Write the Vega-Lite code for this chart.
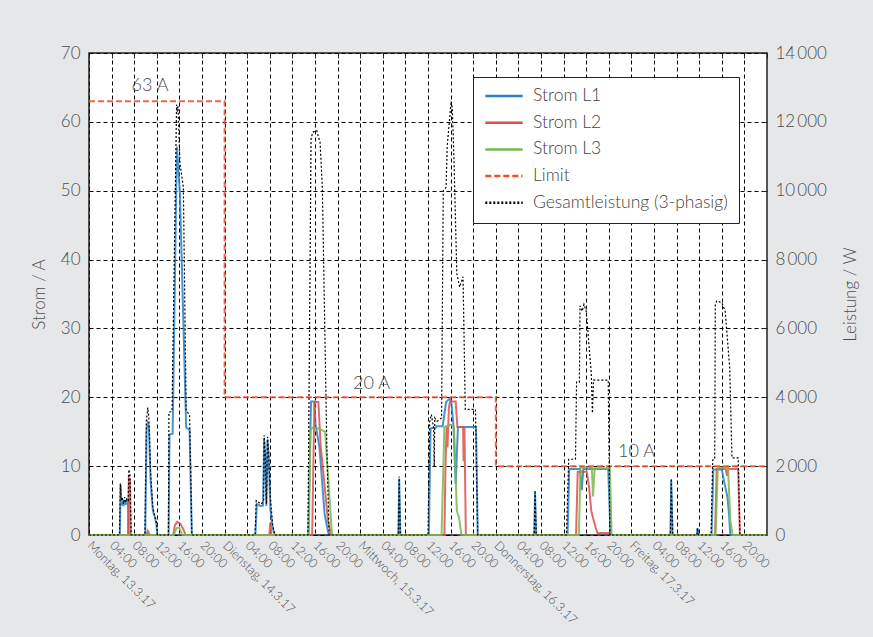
{
  "$schema": "https://vega.github.io/schema/vega-lite/v6.json",
  "width": 678,
  "height": 482,
  "autosize": {"type": "none"},
  "padding": {"left": 89, "top": 53, "right": 106, "bottom": 102},
  "background": "#e6e7e9",
  "config": {
    "font": "Lato",
    "view": {"stroke": "#222222", "strokeWidth": 1.5, "fill": "white"},
    "axis": {"labelFont": "Lato", "labelFontWeight": 300, "labelColor": "#4d4d4d", "titleFont": "Lato", "titleFontWeight": 300, "titleColor": "#4d4d4d"},
    "legend": {"labelFont": "Lato", "labelFontWeight": 300}
  },
  "datasets": {
    "cur": [
      {"t":0,"s":"Strom L1","v":0},{"t":5.45,"s":"Strom L1","v":0},{"t":5.6,"s":"Strom L1","v":7.3},{"t":5.75,"s":"Strom L1","v":4.3},{"t":5.95,"s":"Strom L1","v":5.0},{"t":6.1,"s":"Strom L1","v":4.2},{"t":6.3,"s":"Strom L1","v":5.1},{"t":6.5,"s":"Strom L1","v":4.4},{"t":6.7,"s":"Strom L1","v":5.0},{"t":6.9,"s":"Strom L1","v":4.6},{"t":7.05,"s":"Strom L1","v":0},
      {"t":9.95,"s":"Strom L1","v":0},{"t":10.2,"s":"Strom L1","v":15.5},{"t":10.4,"s":"Strom L1","v":16.3},{"t":10.6,"s":"Strom L1","v":15.8},{"t":10.9,"s":"Strom L1","v":8},{"t":11.3,"s":"Strom L1","v":3.5},{"t":11.7,"s":"Strom L1","v":2.5},{"t":11.95,"s":"Strom L1","v":1.5},{"t":12.1,"s":"Strom L1","v":0},
      {"t":14.1,"s":"Strom L1","v":0},{"t":14.25,"s":"Strom L1","v":14.6},{"t":14.8,"s":"Strom L1","v":14.7},{"t":15.55,"s":"Strom L1","v":56.4},{"t":16.1,"s":"Strom L1","v":49.5},{"t":17.2,"s":"Strom L1","v":15.6},{"t":17.8,"s":"Strom L1","v":15.3},{"t":18.2,"s":"Strom L1","v":0},
      {"t":29.45,"s":"Strom L1","v":0},{"t":29.7,"s":"Strom L1","v":4.5},{"t":30.0,"s":"Strom L1","v":4.4},{"t":30.4,"s":"Strom L1","v":4.2},{"t":30.8,"s":"Strom L1","v":4.3},{"t":31.0,"s":"Strom L1","v":14.0},{"t":31.2,"s":"Strom L1","v":11.0},{"t":31.4,"s":"Strom L1","v":4.2},{"t":31.6,"s":"Strom L1","v":13.8},{"t":31.8,"s":"Strom L1","v":11.4},{"t":32.1,"s":"Strom L1","v":3.8},{"t":32.5,"s":"Strom L1","v":1.0},{"t":32.9,"s":"Strom L1","v":0},
      {"t":38.8,"s":"Strom L1","v":0},{"t":39.3,"s":"Strom L1","v":19.4},{"t":39.9,"s":"Strom L1","v":19.4},{"t":40.1,"s":"Strom L1","v":16},{"t":40.8,"s":"Strom L1","v":12.7},{"t":41.7,"s":"Strom L1","v":3},{"t":42.3,"s":"Strom L1","v":0.5},{"t":42.5,"s":"Strom L1","v":0},
      {"t":54.75,"s":"Strom L1","v":0},{"t":54.9,"s":"Strom L1","v":8.2},{"t":55.1,"s":"Strom L1","v":0},
      {"t":60.15,"s":"Strom L1","v":0},{"t":60.45,"s":"Strom L1","v":15.5},{"t":61.4,"s":"Strom L1","v":15.6},{"t":61.5,"s":"Strom L1","v":15.8},{"t":62.6,"s":"Strom L1","v":15.8},{"t":63.2,"s":"Strom L1","v":19.3},{"t":63.8,"s":"Strom L1","v":19.8},{"t":64.1,"s":"Strom L1","v":19.5},{"t":64.5,"s":"Strom L1","v":16},{"t":64.9,"s":"Strom L1","v":7.4},{"t":65.3,"s":"Strom L1","v":15.7},{"t":68.5,"s":"Strom L1","v":15.7},{"t":68.8,"s":"Strom L1","v":0},
      {"t":78.8,"s":"Strom L1","v":0},{"t":78.95,"s":"Strom L1","v":6.2},{"t":79.15,"s":"Strom L1","v":0},
      {"t":84.7,"s":"Strom L1","v":0},{"t":85.0,"s":"Strom L1","v":9.6},{"t":86.9,"s":"Strom L1","v":9.6},{"t":87.2,"s":"Strom L1","v":6.5},{"t":87.5,"s":"Strom L1","v":9.6},{"t":91.9,"s":"Strom L1","v":9.6},{"t":92.3,"s":"Strom L1","v":0},
      {"t":102.9,"s":"Strom L1","v":0},{"t":103.05,"s":"Strom L1","v":7.9},{"t":103.3,"s":"Strom L1","v":0},
      {"t":107.6,"s":"Strom L1","v":0},{"t":107.7,"s":"Strom L1","v":1.0},{"t":107.85,"s":"Strom L1","v":0},
      {"t":110.2,"s":"Strom L1","v":0},{"t":110.5,"s":"Strom L1","v":9.5},{"t":112.0,"s":"Strom L1","v":9.5},{"t":112.4,"s":"Strom L1","v":7.8},{"t":113.0,"s":"Strom L1","v":5.5},{"t":113.3,"s":"Strom L1","v":2.8},{"t":113.5,"s":"Strom L1","v":0},{"t":120,"s":"Strom L1","v":0},

      {"t":0,"s":"Strom L2","v":0},{"t":6.9,"s":"Strom L2","v":0},{"t":7.05,"s":"Strom L2","v":8.3},{"t":7.25,"s":"Strom L2","v":8.0},{"t":7.4,"s":"Strom L2","v":0},
      {"t":10.2,"s":"Strom L2","v":0},{"t":10.4,"s":"Strom L2","v":0.6},{"t":10.8,"s":"Strom L2","v":0},
      {"t":14.9,"s":"Strom L2","v":0},{"t":15.2,"s":"Strom L2","v":1.4},{"t":15.6,"s":"Strom L2","v":1.9},{"t":16.2,"s":"Strom L2","v":1.6},{"t":16.7,"s":"Strom L2","v":0.8},{"t":17.1,"s":"Strom L2","v":0},
      {"t":31.9,"s":"Strom L2","v":0},{"t":32.1,"s":"Strom L2","v":1.8},{"t":32.3,"s":"Strom L2","v":0},
      {"t":39.5,"s":"Strom L2","v":0},{"t":39.9,"s":"Strom L2","v":19.3},{"t":40.6,"s":"Strom L2","v":19.3},{"t":41.0,"s":"Strom L2","v":13},{"t":41.6,"s":"Strom L2","v":8},{"t":42.3,"s":"Strom L2","v":2},{"t":42.9,"s":"Strom L2","v":0},
      {"t":62.9,"s":"Strom L2","v":0},{"t":63.1,"s":"Strom L2","v":10.3},{"t":63.3,"s":"Strom L2","v":15.7},{"t":63.45,"s":"Strom L2","v":12.7},{"t":63.7,"s":"Strom L2","v":18.5},{"t":63.9,"s":"Strom L2","v":19.4},{"t":64.9,"s":"Strom L2","v":19.4},{"t":65.2,"s":"Strom L2","v":15.7},{"t":66.2,"s":"Strom L2","v":15.7},{"t":66.3,"s":"Strom L2","v":10.7},{"t":66.45,"s":"Strom L2","v":15.7},{"t":66.7,"s":"Strom L2","v":0},
      {"t":86.2,"s":"Strom L2","v":0},{"t":86.5,"s":"Strom L2","v":9.2},{"t":88.1,"s":"Strom L2","v":9.2},{"t":88.5,"s":"Strom L2","v":7.0},{"t":88.9,"s":"Strom L2","v":3.5},{"t":89.3,"s":"Strom L2","v":2.2},{"t":89.7,"s":"Strom L2","v":1.0},{"t":90.0,"s":"Strom L2","v":0.3},{"t":92.0,"s":"Strom L2","v":0.3},{"t":92.2,"s":"Strom L2","v":0},
      {"t":110.8,"s":"Strom L2","v":0},{"t":111.1,"s":"Strom L2","v":9.6},{"t":112.7,"s":"Strom L2","v":9.6},{"t":112.9,"s":"Strom L2","v":8.6},{"t":113.2,"s":"Strom L2","v":9.6},{"t":114.9,"s":"Strom L2","v":9.6},{"t":115.2,"s":"Strom L2","v":0},{"t":120,"s":"Strom L2","v":0},

      {"t":0,"s":"Strom L3","v":0},{"t":15.0,"s":"Strom L3","v":0},{"t":15.5,"s":"Strom L3","v":1.0},{"t":16.0,"s":"Strom L3","v":1.0},{"t":16.5,"s":"Strom L3","v":0},
      {"t":38.9,"s":"Strom L3","v":0},{"t":39.2,"s":"Strom L3","v":15.3},{"t":39.6,"s":"Strom L3","v":15.6},{"t":40.5,"s":"Strom L3","v":15.5},{"t":41.8,"s":"Strom L3","v":15.0},{"t":43.0,"s":"Strom L3","v":0},
      {"t":62.4,"s":"Strom L3","v":0},{"t":62.9,"s":"Strom L3","v":15.7},{"t":64.0,"s":"Strom L3","v":16.0},{"t":64.6,"s":"Strom L3","v":15.7},{"t":65.1,"s":"Strom L3","v":3.5},{"t":65.5,"s":"Strom L3","v":2.5},{"t":65.9,"s":"Strom L3","v":0},
      {"t":86.7,"s":"Strom L3","v":0},{"t":87.0,"s":"Strom L3","v":9.8},{"t":89.0,"s":"Strom L3","v":9.8},{"t":89.2,"s":"Strom L3","v":5.6},{"t":89.5,"s":"Strom L3","v":9.7},{"t":92.2,"s":"Strom L3","v":9.7},{"t":92.5,"s":"Strom L3","v":0},
      {"t":110.9,"s":"Strom L3","v":0},{"t":111.3,"s":"Strom L3","v":9.8},{"t":113.1,"s":"Strom L3","v":9.8},{"t":113.5,"s":"Strom L3","v":2.2},{"t":113.9,"s":"Strom L3","v":0},{"t":120,"s":"Strom L3","v":0},

      {"t":0,"s":"Limit","v":63},{"t":24,"s":"Limit","v":63},{"t":24,"s":"Limit","v":20},{"t":72,"s":"Limit","v":20},{"t":72,"s":"Limit","v":10},{"t":120,"s":"Limit","v":10}
    ],
    "tot": [
      {"t":0,"w":0},{"t":5.4,"w":0},{"t":5.55,"w":1500},{"t":5.7,"w":1000},{"t":5.9,"w":1100},{"t":6.1,"w":900},{"t":6.3,"w":1100},{"t":6.5,"w":950},{"t":6.7,"w":1050},{"t":6.95,"w":1000},{"t":7.05,"w":1900},{"t":7.25,"w":1750},{"t":7.45,"w":0},
      {"t":9.9,"w":0},{"t":10.15,"w":3300},{"t":10.4,"w":3700},{"t":10.6,"w":3400},{"t":10.9,"w":1800},{"t":11.3,"w":800},{"t":11.7,"w":500},{"t":12.0,"w":300},{"t":12.1,"w":0},
      {"t":14.05,"w":0},{"t":14.15,"w":3560},{"t":14.7,"w":3600},{"t":15.5,"w":12500},{"t":15.6,"w":12300},{"t":15.75,"w":12450},{"t":16.1,"w":10800},{"t":16.7,"w":10100},{"t":17.2,"w":3600},{"t":17.8,"w":3500},{"t":18.2,"w":0},
      {"t":29.4,"w":0},{"t":29.6,"w":1000},{"t":30.0,"w":950},{"t":30.5,"w":900},{"t":30.9,"w":1000},{"t":31.0,"w":2900},{"t":31.2,"w":2300},{"t":31.4,"w":900},{"t":31.6,"w":2850},{"t":31.8,"w":2400},{"t":32.1,"w":1100},{"t":32.5,"w":300},{"t":32.9,"w":0},
      {"t":38.75,"w":0},{"t":39.3,"w":11500},{"t":39.6,"w":11700},{"t":40.3,"w":11750},{"t":40.9,"w":11400},{"t":41.3,"w":10100},{"t":42.1,"w":2500},{"t":42.5,"w":0},
      {"t":54.75,"w":0},{"t":54.9,"w":1700},{"t":55.1,"w":0},
      {"t":60.0,"w":0},{"t":60.3,"w":3300},{"t":60.6,"w":3500},{"t":61.0,"w":3100},{"t":61.1,"w":2000},{"t":61.2,"w":3400},{"t":61.6,"w":3300},{"t":62.4,"w":3400},{"t":62.7,"w":10000},{"t":63.2,"w":10100},{"t":63.4,"w":11300},{"t":64.1,"w":12600},{"t":64.3,"w":12400},{"t":64.6,"w":10900},{"t":65.1,"w":7600},{"t":65.6,"w":7200},{"t":66.2,"w":7500},{"t":66.6,"w":3650},{"t":68.4,"w":3650},{"t":68.8,"w":0},
      {"t":78.8,"w":0},{"t":78.95,"w":1300},{"t":79.15,"w":0},
      {"t":84.5,"w":0},{"t":84.9,"w":2200},{"t":86.1,"w":2200},{"t":86.3,"w":4440},{"t":86.8,"w":4440},{"t":86.9,"w":6660},{"t":87.3,"w":6500},{"t":87.6,"w":6700},{"t":88.0,"w":6500},{"t":88.9,"w":4700},{"t":89.1,"w":3540},{"t":89.3,"w":4500},{"t":91.9,"w":4500},{"t":92.2,"w":0},
      {"t":102.9,"w":0},{"t":103.05,"w":1640},{"t":103.3,"w":0},
      {"t":107.6,"w":0},{"t":107.7,"w":200},{"t":107.85,"w":0},
      {"t":110.1,"w":0},{"t":110.4,"w":2180},{"t":110.75,"w":2200},{"t":110.85,"w":6680},{"t":111.1,"w":6800},{"t":112.0,"w":6750},{"t":112.6,"w":6500},{"t":113.4,"w":4860},{"t":113.8,"w":2240},{"t":114.9,"w":2240},{"t":115.2,"w":0},{"t":120,"w":0}
    ],
    "lbl": [
      {"t":10.8,"v":65.2,"label":"63 A"},
      {"t":50.0,"v":22.0,"label":"20 A"},
      {"t":96.9,"v":12.1,"label":"10 A"}
    ]
  },
  "layer": [
    {
      "data": {"name": "cur"},
      "mark": {"type": "line", "strokeWidth": 2, "strokeOpacity": 0.85},
      "encoding": {
        "x": {"field": "t", "type": "quantitative",
          "scale": {"domain": [0, 120], "nice": false, "zero": false},
          "axis": {"title": null, "tickCount": 40, "values": [0,4,8,12,16,20,24,28,32,36,40,44,48,52,56,60,64,68,72,76,80,84,88,92,96,100,104,108,112,116],
            "labelExpr": "datum.value % 24 == 0 ? ['Montag, 13.3.17','Dienstag, 14.3.17','Mittwoch, 15.3.17','Donnerstag, 16.3.17','Freitag, 17.3.17'][datum.value/24] : ((datum.value % 24) < 10 ? '0' : '') + (datum.value % 24) + ':00'",
            "labelAngle": 45, "labelAlign": "left", "labelBaseline": "middle", "labelPadding": 8,
            "labelFontSize": 12.5, "labelOverlap": false, "labelBound": false, "labelFlush": false,
            "ticks": false, "domain": false,
            "grid": true, "gridColor": "#000000", "gridDash": [4, 3], "gridWidth": 1, "gridOpacity": 1}},
        "y": {"field": "v", "type": "quantitative",
          "scale": {"domain": [0, 70], "nice": false},
          "axis": {"title": "Strom / A", "values": [0,10,20,30,40,50,60,70], "labelFontSize": 17, "titleFontSize": 17,
            "labelPadding": 9, "titlePadding": 12, "ticks": false, "domain": false,
            "grid": true, "gridColor": "#000000", "gridDash": [4, 3], "gridWidth": 1, "gridOpacity": 1}},
        "color": {"field": "s", "type": "nominal",
          "scale": {"domain": ["Strom L1","Strom L2","Strom L3","Limit","Gesamtleistung (3-phasig)"], "range": ["#2a7fc4","#dd4f4c","#78b84c","#f04e23","#000000"]},
          "legend": {"title": null, "orient": "none", "legendX": 384, "legendY": 24, "fillColor": "white", "strokeColor": "#222222",
            "padding": 11, "symbolType": "stroke", "symbolSize": 1400, "symbolStrokeWidth": 2.5, "labelFontSize": 17.5, "labelColor": "#444444",
            "labelOffset": 9, "labelLimit": 400, "clipHeight": 16, "rowPadding": 8.7}},
        "strokeDash": {"field": "s", "type": "nominal",
          "scale": {"domain": ["Strom L1","Strom L2","Strom L3","Limit","Gesamtleistung (3-phasig)"], "range": [[1,0],[1,0],[1,0],[6,3],[2,2]]},
          "legend": {"title": null, "orient": "none", "legendX": 384, "legendY": 24}},
        "order": {"value": null}
      }
    },
    {
      "data": {"name": "tot"},
      "transform": [{"calculate": "'Gesamtleistung (3-phasig)'", "as": "s"}],
      "mark": {"type": "line", "strokeWidth": 1.2},
      "encoding": {
        "x": {"field": "t", "type": "quantitative", "scale": {"domain": [0, 120], "nice": false, "zero": false}, "axis": null},
        "y": {"field": "w", "type": "quantitative",
          "scale": {"domain": [0, 14000], "nice": false},
          "axis": {"orient": "right", "title": "Leistung / W", "titleAngle": -90, "values": [0,2000,4000,6000,8000,10000,12000,14000],
            "labelExpr": "replace(format(datum.value, ','), ',', '\u2009')",
            "labelFontSize": 17, "titleFontSize": 17, "labelPadding": 13, "titlePadding": 33,
            "ticks": true, "tickSize": -5, "tickColor": "#222222", "tickWidth": 1, "domain": false, "grid": false}},
        "color": {"field": "s", "type": "nominal",
          "scale": {"domain": ["Strom L1","Strom L2","Strom L3","Limit","Gesamtleistung (3-phasig)"], "range": ["#2a7fc4","#dd4f4c","#78b84c","#f04e23","#000000"]}},
        "strokeDash": {"field": "s", "type": "nominal",
          "scale": {"domain": ["Strom L1","Strom L2","Strom L3","Limit","Gesamtleistung (3-phasig)"], "range": [[1,0],[1,0],[1,0],[6,3],[2,2]]}},
        "order": {"value": null}
      }
    },
    {
      "data": {"name": "lbl"},
      "mark": {"type": "text", "fontSize": 18, "fontWeight": 300, "color": "#4d4d4d", "align": "center", "baseline": "middle"},
      "encoding": {
        "x": {"field": "t", "type": "quantitative", "scale": {"domain": [0, 120], "nice": false, "zero": false},
          "axis": {"orient": "top", "title": null, "labels": false, "grid": false, "domain": false, "tickCount": 40,
            "values": [0,4,8,12,16,20,24,28,32,36,40,44,48,52,56,60,64,68,72,76,80,84,88,92,96,100,104,108,112,116,120],
            "ticks": true, "tickSize": -5, "tickColor": "#222222", "tickWidth": 1}},
        "y": {"field": "v", "type": "quantitative", "scale": {"domain": [0, 70], "nice": false}, "axis": null},
        "text": {"field": "label"}
      }
    }
  ],
  "resolve": {"scale": {"y": "independent"}, "axis": {"x": "independent"}}
}
